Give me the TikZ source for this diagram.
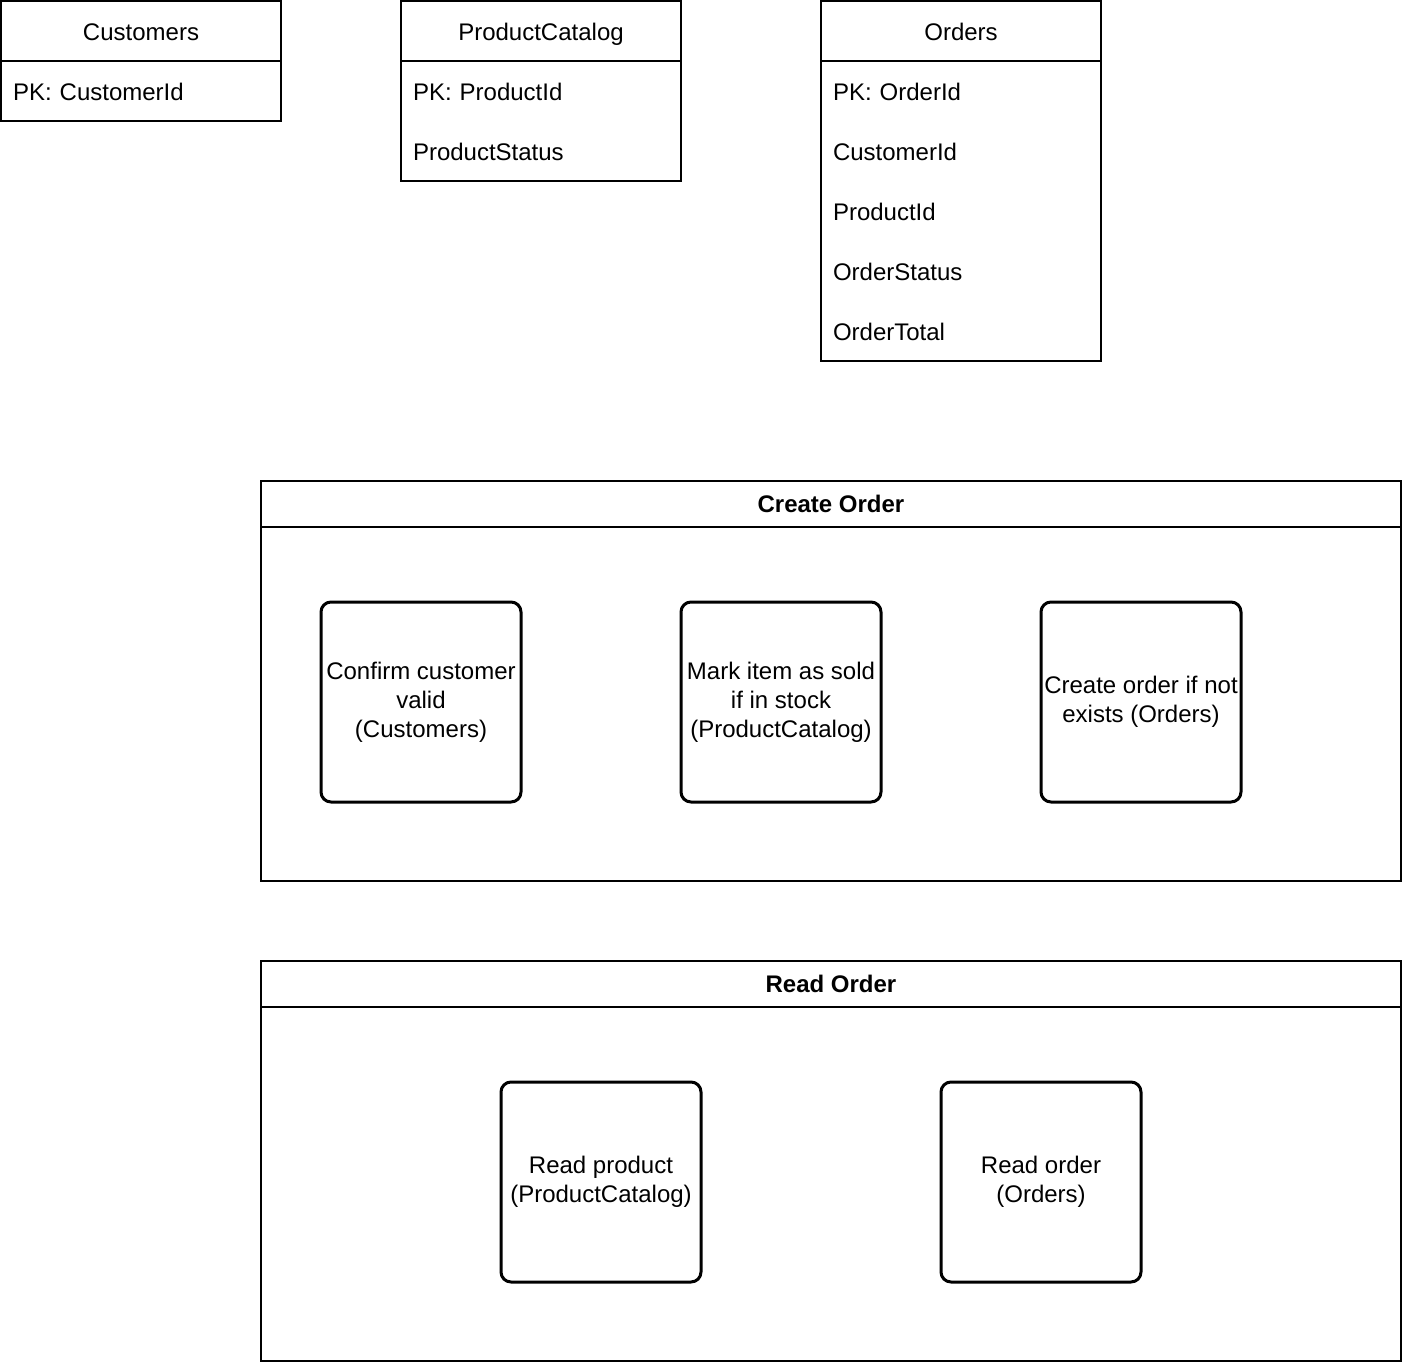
\documentclass[tikz,border=0pt]{standalone}
\usepackage{fontspec}
\setmainfont{Liberation Sans}
\usetikzlibrary{positioning}
\begin{document}
\begin{tikzpicture}[x=1pt, y=-1pt, node distance=0pt]

% Define styles
\tikzstyle{tablehead} = [rectangle, minimum width=280pt, minimum height=60pt, text height=19pt, text depth=0pt, text centered, draw=black, line width=1.5pt, outer sep=0pt, font=\fontsize{24}{29}\selectfont]
\tikzstyle{tablerow} = [rectangle, minimum width=280pt, minimum height=60pt, text height=19pt, text depth=0pt, text width=256pt, inner xsep=12pt, inner ysep=0pt, outer sep=0pt, align=left, font=\fontsize{24}{29}\selectfont]
\tikzstyle{tableline} = [draw=black, line width=1.5pt]
\tikzstyle{frame} = [rectangle, minimum width=1140pt, minimum height=400pt, draw=black, line width=1.5pt, outer sep=0pt]
\tikzstyle{framehead} = [rectangle, minimum width=1140pt, minimum height=46pt, draw=black, line width=1.5pt, outer sep=0pt, font=\fontsize{24}{29}\selectfont\bfseries]
\tikzstyle{stepbox} = [rectangle, rounded corners=10pt, minimum width=200pt, minimum height=200pt, inner sep=0pt, outer sep=0pt, align=center, draw=black, line width=3pt, font=\fontsize{24}{29}\selectfont]

\useasboundingbox (0,0) rectangle (1402,1362);

% Customers table
\node (cust_head) [tablehead] at (141,31) {Customers};
\node (cust_1) [tablerow, below=of cust_head] {PK: CustomerId};
\draw [tableline] (cust_head.south west) rectangle (cust_1.south east);

% ProductCatalog table
\node (prod_head) [tablehead] at (541,31) {ProductCatalog};
\node (prod_1) [tablerow, below=of prod_head] {PK: ProductId};
\node (prod_2) [tablerow, below=of prod_1] {ProductStatus};
\draw [tableline] (prod_head.south west) rectangle (prod_2.south east);

% Orders table
\node (ord_head) [tablehead] at (961,31) {Orders};
\node (ord_1) [tablerow, below=of ord_head] {PK: OrderId};
\node (ord_2) [tablerow, below=of ord_1] {CustomerId};
\node (ord_3) [tablerow, below=of ord_2] {ProductId};
\node (ord_4) [tablerow, below=of ord_3] {OrderStatus};
\node (ord_5) [tablerow, below=of ord_4] {OrderTotal};
\draw [tableline] (ord_head.south west) rectangle (ord_5.south east);

% Create Order
\node (create_frame) [frame] at (831,681) {};
\node (create_head) [framehead, below=of create_frame.north] {Create Order};
\node (create_1) [stepbox] at (421,702) {Confirm customer\\valid\\(Customers)};
\node (create_2) [stepbox, right=160pt of create_1] {Mark item as sold\\if in stock\\(ProductCatalog)};
\node (create_3) [stepbox, right=160pt of create_2] {Create order if not\\exists (Orders)};

% Read Order
\node (read_frame) [frame] at (831,1161) {};
\node (read_head) [framehead, below=of read_frame.north] {Read Order};
\node (read_1) [stepbox] at (601,1182) {Read product\\(ProductCatalog)};
\node (read_2) [stepbox, right=240pt of read_1] {Read order\\(Orders)};

\end{tikzpicture}
\end{document}
